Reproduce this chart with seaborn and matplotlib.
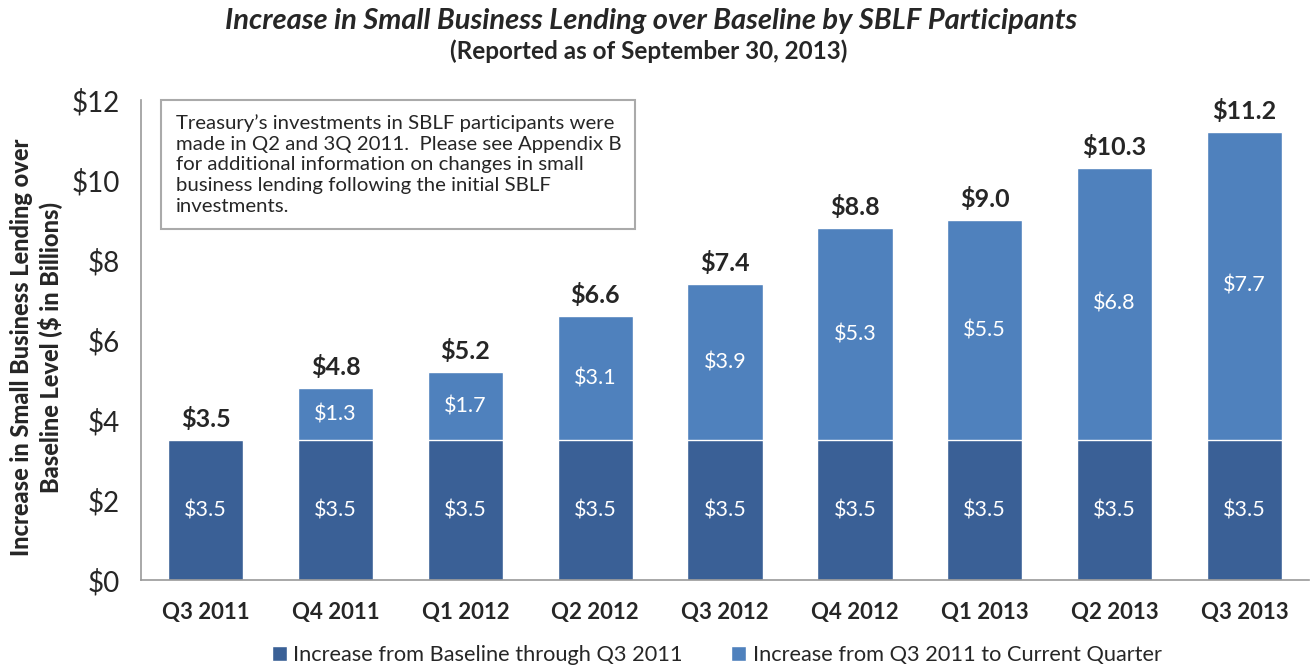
import numpy as np
import pandas as pd
import matplotlib
matplotlib.use("Agg")
import matplotlib.pyplot as plt
import seaborn as sns
from matplotlib.patches import Patch

quarters = ["Q3 2011", "Q4 2011", "Q1 2012", "Q2 2012", "Q3 2012",
            "Q4 2012", "Q1 2013", "Q2 2013", "Q3 2013"]
base_through_q3_2011 = [3.5, 3.5, 3.5, 3.5, 3.5, 3.5, 3.5, 3.5, 3.5]
increase_since_q3_2011 = [0.0, 1.3, 1.7, 3.1, 3.9, 5.3, 5.5, 6.8, 7.7]
totals = [3.5, 4.8, 5.2, 6.6, 7.4, 8.8, 9.0, 10.3, 11.2]

DARK = "#3A6096"
LIGHT = "#4F81BD"

sns.set_style("white")
plt.rcParams["font.family"] = ["Lato", "DejaVu Sans"]

df = pd.DataFrame({"quarter": quarters, "base": base_through_q3_2011,
                   "incr": increase_since_q3_2011, "total": totals})

fig = plt.figure(figsize=(13.1, 6.7), dpi=100)
ax = fig.add_axes([0.1075, 0.134, 0.892, 0.717])

# total bar in light blue, then the base part on top in dark blue
sns.barplot(data=df, x="quarter", y="total", color=LIGHT, saturation=1,
            width=0.58, ax=ax)
sns.barplot(data=df, x="quarter", y="base", color=DARK, saturation=1,
            width=0.58, ax=ax)

ax.set_ylim(0, 12)
ax.set_xlim(-0.5, len(quarters) - 0.5)
ax.set_yticks(range(0, 13, 2))
ax.set_yticklabels([f"${v}" for v in range(0, 13, 2)], fontsize=20)
ax.set_xticks(range(len(quarters)))
ax.set_xticklabels(quarters, fontsize=16, fontweight="bold")
ax.set_xticks(np.arange(-0.5, len(quarters), 1), minor=True)
ax.tick_params(axis="x", which="major", length=0, pad=16)
ax.tick_params(axis="x", which="minor", length=7, color="#999999", direction="out")
ax.tick_params(axis="y", length=8, color="#999999", direction="out", pad=7)
ax.set_xlabel("")
ax.set_ylabel("")
fig.text(0.028, 0.482, "Increase in Small Business Lending over\nBaseline Level ($ in Billions)",
         rotation=90, ha="center", va="center", fontsize=17, fontweight=900,
         linespacing=1.25)

sns.despine(ax=ax)
for s in ["left", "bottom"]:
    ax.spines[s].set_color("#999999")
    ax.spines[s].set_linewidth(1.2)

for i, row in df.iterrows():
    ax.text(i, row["base"] / 2, f"${row['base']:.1f}", ha="center", va="center",
            color="white", fontsize=15.5)
    if row["incr"] > 0:
        ax.text(i, row["base"] + row["incr"] / 2, f"${row['incr']:.1f}",
                ha="center", va="center", color="white", fontsize=15.5)
    ax.text(i, row["total"] + 0.22, f"${row['total']:.1f}", ha="center", va="bottom",
            fontsize=18, fontweight="bold")

fig.text(0.497, 0.968, "Increase in Small Business Lending over Baseline by SBLF Participants",
         ha="center", va="center", fontsize=21, fontweight="bold", style="italic")
fig.text(0.495, 0.924, "(Reported as of September 30, 2013)",
         ha="center", va="center", fontsize=17.5, fontweight="bold")

note = ("Treasury\u2019s investments in SBLF participants were\n"
        "made in Q2 and 3Q 2011.  Please see Appendix B\n"
        "for additional information on changes in small\n"
        "business lending following the initial SBLF\n"
        "investments.")
fig.text(0.134, 0.830, note, ha="left", va="top", fontsize=14.7, linespacing=1.27,
         bbox=dict(boxstyle="square,pad=0.7", facecolor="white", edgecolor="#aaaaaa", linewidth=1.5))

handles = [Patch(facecolor=DARK, label="Increase from Baseline through Q3 2011"),
           Patch(facecolor=LIGHT, label="Increase from Q3 2011 to Current Quarter")]
fig.legend(handles=handles, loc="center", bbox_to_anchor=(0.547, 0.022), ncol=2,
           frameon=False, fontsize=15.7, handlelength=0.7, handleheight=0.7,
           handletextpad=0.3, columnspacing=2.2)

fig.savefig("out.png", dpi=100)
